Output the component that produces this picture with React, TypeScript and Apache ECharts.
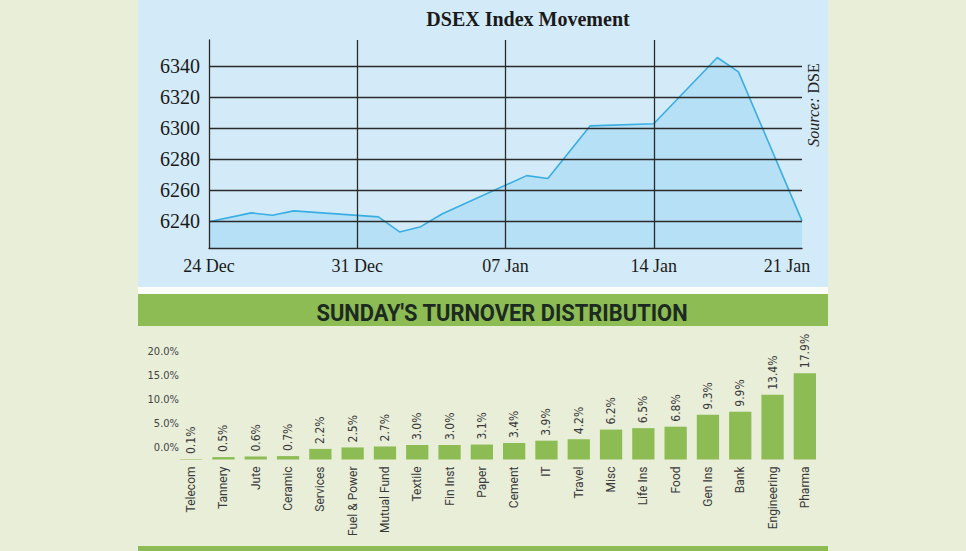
import React, { useEffect, useRef } from "react";
import * as echarts from "echarts";

// ---- DSEX index movement (top chart) ----
const dsexDates = [
  "2023-12-24", "2023-12-26", "2023-12-27", "2023-12-28", "2024-01-01",
  "2024-01-02", "2024-01-03", "2024-01-04", "2024-01-08", "2024-01-09",
  "2024-01-11", "2024-01-14", "2024-01-17", "2024-01-18", "2024-01-21",
];
const dsexValues = [
  6239.5, 6245.2, 6243.7, 6246.5, 6242.6,
  6232.9, 6236.3, 6244.5, 6269.3, 6267.4,
  6301.5, 6302.8, 6345.7, 6336.4, 6240.0,
];
const dateTickLabels = ["24 Dec", "31 Dec", "07 Jan", "14 Jan", "21 Jan"];

// ---- Sunday's turnover distribution (bottom chart) ----
const sectors = [
  "Telecom", "Tannery", "Jute", "Ceramic", "Services", "Fuel & Power",
  "Mutual Fund", "Textile", "Fin Inst", "Paper", "Cement", "IT", "Travel",
  "Misc", "Life Ins", "Food", "Gen Ins", "Bank", "Engineering", "Pharma",
];
const turnoverShare = [
  0.1, 0.5, 0.6, 0.7, 2.2, 2.5, 2.7, 3.0, 3.0, 3.1, 3.4, 3.9, 4.2,
  6.2, 6.5, 6.8, 9.3, 9.9, 13.4, 17.9,
];

const DAY = 86400000;
const SERIF = "'Liberation Serif', 'Times New Roman', serif";
const NARROW = "'Liberation Sans Narrow', 'DejaVu Sans Condensed', 'Roboto', sans-serif";
const GREEN = "#8cbc53";
const HEADER = "SUNDAY'S TURNOVER DISTRIBUTION";
const HEADER_FONT = "bold 24px Roboto, sans-serif";

function measure(text: string, font: string): number {
  const c = document.createElement("canvas").getContext("2d");
  if (!c) return 0;
  c.font = font;
  return c.measureText(text).width;
}

export default function App() {
  const ref = useRef<HTMLDivElement>(null);

  useEffect(() => {
    if (!ref.current) return;
    const chart = echarts.init(ref.current, null, { renderer: "svg" });
    const t0 = Date.parse(dsexDates[0]);
    const lineData = dsexDates.map((d, i) => [(Date.parse(d) - t0) / DAY, dsexValues[i]]);
    const hw = measure(HEADER, HEADER_FONT);
    const headerScale = hw > 0 ? 372 / hw : 0.87;
    const lastIdx = dateTickLabels.length - 1;

    const option: any = {
      animation: false,
      backgroundColor: "#e9eed9",
      graphic: [
        { type: "rect", z: -10, silent: true, shape: { x: 138, y: 0, width: 690, height: 287 }, style: { fill: "#d3ebf8" } },
        { type: "rect", z: -10, silent: true, shape: { x: 138, y: 287, width: 690, height: 7 }, style: { fill: "#fbfdf9" } },
        { type: "rect", z: -10, silent: true, shape: { x: 138, y: 294, width: 690, height: 32 }, style: { fill: GREEN } },
        { type: "rect", z: -10, silent: true, shape: { x: 138, y: 546, width: 690, height: 5 }, style: { fill: GREEN } },
        {
          type: "text", x: 528, y: 19, z: 10,
          style: {
            text: "DSEX Index Movement", fill: "#1a1a1a",
            font: `bold 20px ${SERIF}`,
            align: "center", verticalAlign: "middle",
            textAlign: "center", textVerticalAlign: "middle",
          },
        },
        {
          type: "text", x: 813, y: 105, z: 10, rotation: Math.PI / 2,
          style: {
            text: "{i|Source:} {n|DSE}",
            font: `16px ${SERIF}`, fill: "#222",
            align: "center", verticalAlign: "middle",
            textAlign: "center", textVerticalAlign: "middle",
            rich: {
              i: { fontStyle: "italic", fontSize: 16, fontFamily: SERIF, fill: "#222" },
              n: { fontSize: 16, fontFamily: SERIF, fill: "#222" },
            },
          },
        },
        {
          type: "text", x: 502, y: 313, z: 10, scaleX: headerScale,
          style: {
            text: HEADER, fill: "#1d2a22",
            font: HEADER_FONT,
            align: "center", verticalAlign: "middle",
            textAlign: "center", textVerticalAlign: "middle",
          },
        },
      ],
      grid: [
        { left: 209, right: 164, top: 40, bottom: 303 },
        { left: 175, right: 145, top: 363, bottom: 91.5 },
      ],
      xAxis: [
        {
          type: "value", gridIndex: 0, min: 0, max: 28, interval: 7, z: 5,
          axisLine: { show: true, lineStyle: { color: "#2a2a2a", width: 1.3 } },
          axisTick: { show: false },
          splitLine: { show: true, showMinLine: false, showMaxLine: false, lineStyle: { color: "#2a2a2a", width: 1.3 } },
          axisLabel: {
            margin: 9, fontFamily: SERIF, fontSize: 18, color: "#1a1a1a",
            formatter: (v: number) => {
              const i = Math.round(v / 7);
              const s = dateTickLabels[i] ?? "";
              return i === lastIdx ? `{m|${s}}` : s;
            },
            rich: {
              m: { fontFamily: SERIF, fontSize: 18, color: "#1a1a1a", padding: [0, 30, 0, 0] },
            },
          },
        },
        {
          type: "category", gridIndex: 1, data: sectors,
          axisLine: { show: false }, axisTick: { show: false },
          axisLabel: {
            rotate: 90, margin: 7, interval: 0,
            fontFamily: "Roboto, 'Open Sans', sans-serif", fontSize: 12, color: "#3a3a3a",
          },
        },
      ],
      yAxis: [
        {
          type: "value", gridIndex: 0, min: 6222.5, max: 6357, splitNumber: 7, z: 5,
          axisLine: { show: true, lineStyle: { color: "#2a2a2a", width: 1.3 } },
          axisTick: { show: false },
          splitLine: { show: true, showMinLine: false, showMaxLine: false, lineStyle: { color: "#2a2a2a", width: 1.3 } },
          axisLabel: {
            showMinLabel: false, showMaxLabel: false, margin: 9,
            fontFamily: SERIF, fontSize: 20, color: "#1a1a1a",
            formatter: (v: number) => String(Math.round(v)),
          },
        },
        {
          type: "value", gridIndex: 1, min: 0, max: 20, interval: 5,
          axisLine: { show: false }, axisTick: { show: false }, splitLine: { show: false },
          axisLabel: {
            margin: -4, verticalAlign: "bottom", lineHeight: 24,
            fontFamily: NARROW, fontSize: 11, color: "#444",
            formatter: (v: number) => v.toFixed(1) + "%",
          },
        },
      ],
      series: [
        {
          type: "line", xAxisIndex: 0, yAxisIndex: 0, data: lineData,
          showSymbol: false, symbol: "none",
          lineStyle: { color: "#3aade2", width: 1.6 },
          areaStyle: { color: "#b6e0f6", opacity: 1 },
        },
        {
          type: "bar", xAxisIndex: 1, yAxisIndex: 1, data: turnoverShare,
          barCategoryGap: "31%",
          itemStyle: { color: GREEN },
          label: {
            show: true, position: "top", rotate: 90, distance: 5,
            align: "left", verticalAlign: "middle",
            fontFamily: NARROW, fontSize: 12, color: "#3a3a3a",
            formatter: (p: any) => Number(p.value).toFixed(1) + "%",
          },
        },
      ],
    };
    chart.setOption(option);
    return () => chart.dispose();
  }, []);

  return (
    <div
      ref={ref}
      style={{ position: "absolute", left: 0, top: 0, width: 966, height: 551 }}
    />
  );
}
